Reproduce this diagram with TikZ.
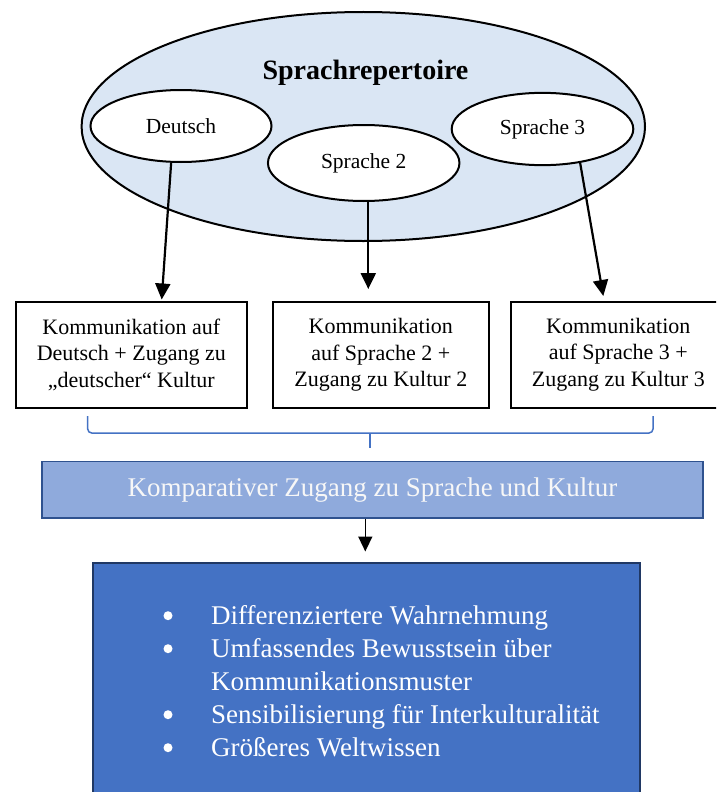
\documentclass[tikz,border=0pt]{standalone}
\usepackage{fontspec}
\setmainfont{Liberation Serif}
\usetikzlibrary{shapes.geometric,arrows.meta,calc}
\definecolor{ellfill}{HTML}{DAE6F4}
\definecolor{barfill}{HTML}{8FAADC}
\definecolor{bardraw}{HTML}{2F528F}
\definecolor{botfill}{HTML}{4472C4}
\definecolor{botdraw}{HTML}{203864}
\definecolor{bracecol}{HTML}{4472C4}
\begin{document}
\begin{tikzpicture}[x=1pt,y=-1pt,
  lang/.style={ellipse, draw, line width=2pt, fill=white, inner sep=0pt,
    font=\fontsize{21.5}{25}\selectfont},
  combox/.style={rectangle, draw, line width=2pt, fill=white,
    minimum height=106pt, inner sep=0pt, align=center,
    font=\fontsize{22}{26.7}\selectfont},
  arr/.style={line width=2.2pt, -{Triangle[width=15pt,length=16pt]}},
  brace/.style={draw=bracecol, line width=1.5pt},
  bul/.style={circle, fill=white, minimum size=9pt, inner sep=0pt},
]
\clip (0,0) rectangle (716,792);
\fill[white] (0,0) rectangle (716,792);

% repertoire ellipse
\node[ellipse, draw, line width=2pt, fill=ellfill, minimum width=563.4pt,
  minimum height=229pt, inner sep=0pt] (rep) at (363.3,126.5) {};
\node[anchor=base, inner sep=0pt, font=\fontsize{28}{32}\selectfont\bfseries]
  (title) at (365.5,80) {Sprachrepertoire};
\node[lang, minimum width=181pt, minimum height=72pt] (de) at (181,126) {Deutsch};
\node[lang, minimum width=191.5pt, minimum height=76pt] (s2) at (363.7,163) {Sprache 2};
\node[lang, minimum width=181.6pt, minimum height=72.3pt] (s3) at (542.5,129) {Sprache 3};

% communication boxes
\node[combox, minimum width=230.6pt] (b1) at (131.3,354.7)
  {Kommunikation auf\\Deutsch + Zugang zu\\„deutscher“ Kultur};
\node[combox, minimum width=215.6pt] (b2) at (380.8,355)
  {Kommunikation\\auf Sprache 2 +\\Zugang zu Kultur 2};
\node[combox, minimum width=215.6pt] (b3) at (618.3,354.5)
  {Kommunikation\\auf Sprache 3 +\\Zugang zu Kultur 3};

% arrows from languages to boxes
\coordinate (e1) at (161.7,299.5);
\coordinate (e2) at (368.3,289);
\coordinate (e3) at (603.3,296);
\draw[arr] (de.-105) -- (e1);
\draw[arr] (s2.south -| e2) -- (e2);
\draw[arr] (s3.-42) -- (e3);

% brace
\coordinate (brL) at (87.7,416);
\coordinate (brR) at (653,416);
\coordinate (brM) at (370,433);
\coordinate (brT) at (370,448);
\draw[brace, rounded corners=4pt] (brL) -- (brL |- brM) -- (brR |- brM) -- (brR);
\draw[brace] (brM) -- (brT);

% comparative bar
\node[rectangle, draw=bardraw, fill=barfill, line width=1.8pt,
  minimum width=661pt, minimum height=56.3pt, inner sep=0pt,
  text=white!94!gray, font=\fontsize{27}{31}\selectfont]
  (bar) at (372.5,489.6) {Komparativer Zugang zu Sprache und Kultur};

% result box
\node[rectangle, draw=botdraw, fill=botfill, line width=2pt,
  minimum width=547pt, minimum height=262pt, inner sep=0pt, anchor=north west]
  (res) at (92,561.5) {};

\coordinate (e4) at (365.3,551.5);
\draw[line width=1.5pt, -{Triangle[width=14pt,length=15pt]}] (bar.south -| e4) -- (e4);

% list
\node[anchor=base west, inner sep=0pt, text=white, font=\fontsize{27}{33}\selectfont]
  (items) at (211,624) {\begin{tabular}[t]{@{}l@{}}
  Differenziertere Wahrnehmung\\
  Umfassendes Bewusstsein über\\
  Kommunikationsmuster\\
  Sensibilisierung für Interkulturalität\\
  Größeres Weltwissen
  \end{tabular}};
\node[bul] (bu1) at (168,615.7) {};
\node[bul] (bu2) at (168,648.7) {};
\node[bul] (bu3) at (168,714.7) {};
\node[bul] (bu4) at (168,747.7) {};
\end{tikzpicture}
\end{document}
